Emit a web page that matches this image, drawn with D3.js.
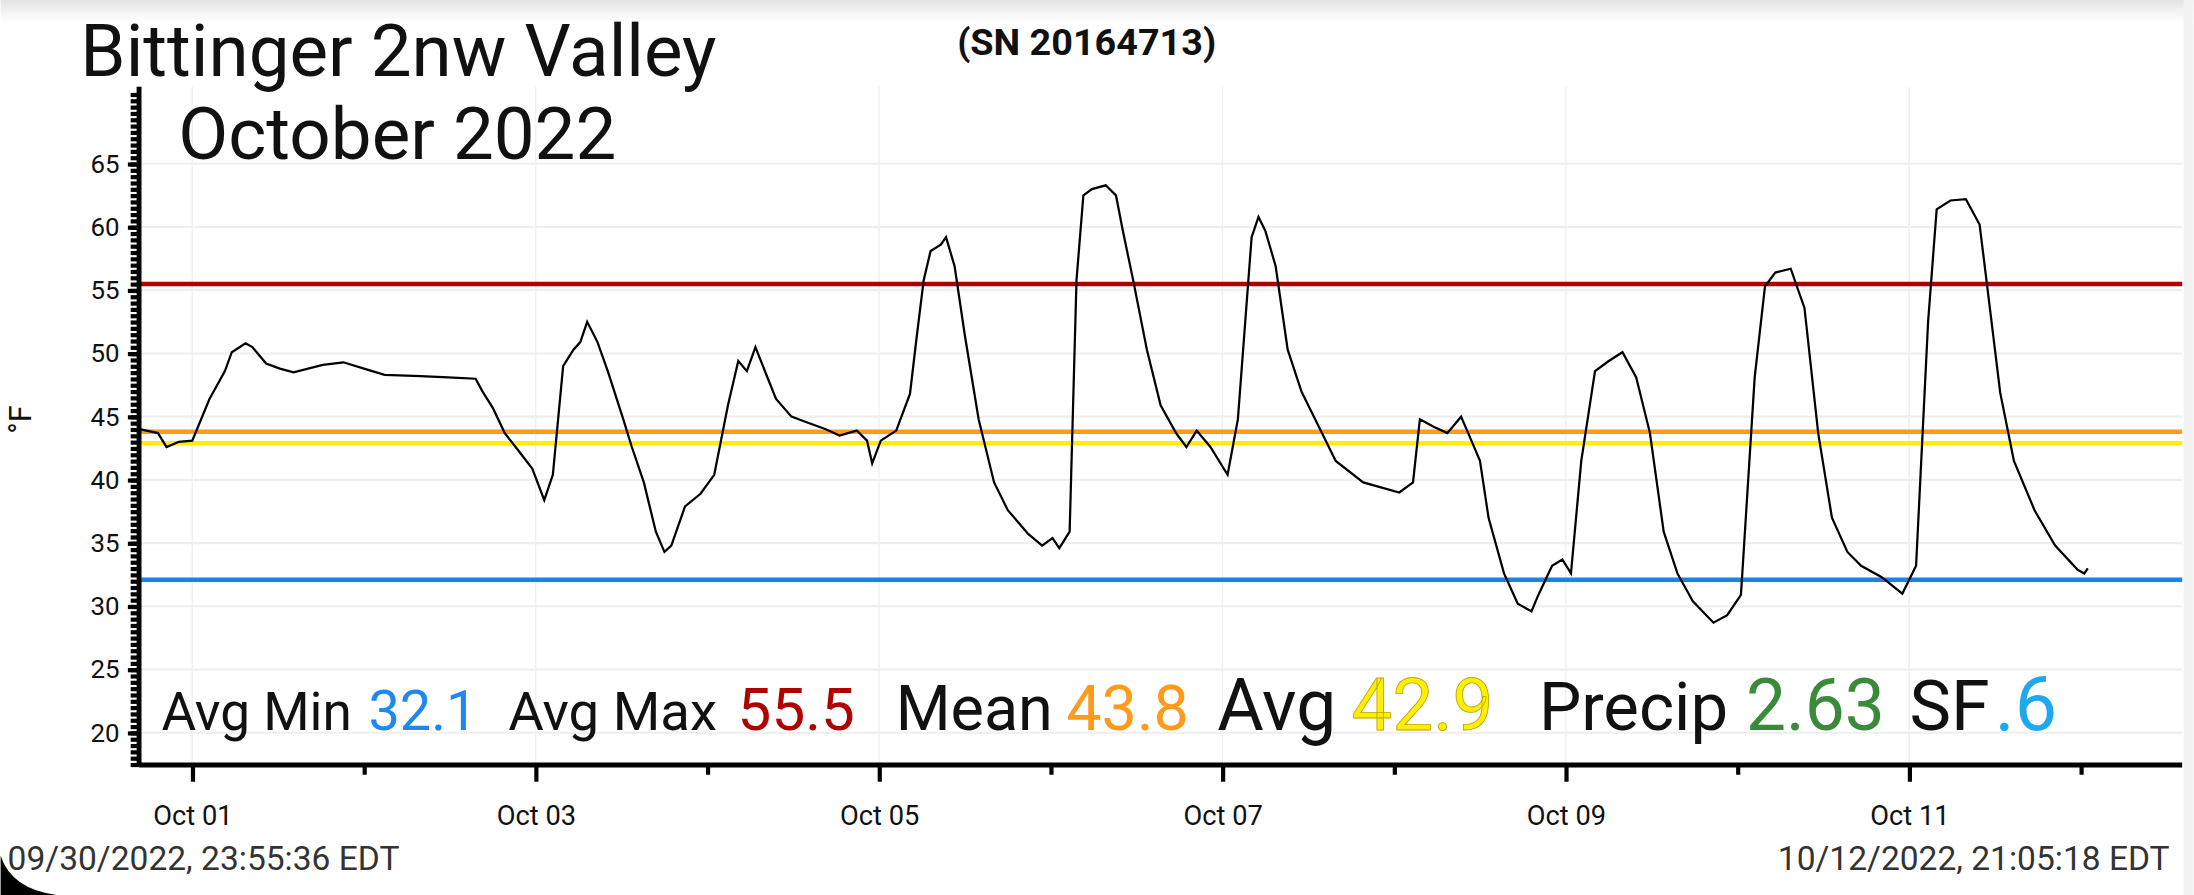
<!DOCTYPE html>
<html>
<head>
<script src="https://cdn.jsdelivr.net/npm/d3@7"></script>
<style>
body{margin:0;background:#fff;overflow:hidden}
text{font-family:Roboto,"Liberation Sans",sans-serif}
</style>
</head>
<body>
<svg id="chart" width="2194" height="895" viewBox="0 0 1568 640"></svg>
<script>
// days after Oct 01 00:00, and temperature in F
var days=[-0.30,-0.20,-0.15,-0.08,0.00,0.10,0.19,0.23,0.31,0.35,0.43,0.51,0.59,0.76,0.88,1.00,1.12,1.33,1.49,1.65,1.69,1.75,1.82,1.90,1.98,2.05,2.10,2.16,2.22,2.26,2.30,2.36,2.42,2.51,2.56,2.63,2.70,2.75,2.79,2.87,2.96,3.04,3.12,3.18,3.23,3.28,3.35,3.40,3.49,3.57,3.69,3.77,3.87,3.93,3.96,4.01,4.10,4.18,4.22,4.26,4.30,4.36,4.39,4.44,4.50,4.58,4.67,4.75,4.87,4.95,5.01,5.05,5.11,5.15,5.19,5.24,5.32,5.38,5.42,5.48,5.56,5.64,5.73,5.79,5.85,5.93,6.03,6.09,6.17,6.21,6.25,6.31,6.38,6.46,6.54,6.66,6.82,7.03,7.11,7.15,7.23,7.31,7.39,7.45,7.50,7.55,7.64,7.72,7.80,7.84,7.92,7.98,8.03,8.09,8.17,8.25,8.33,8.41,8.49,8.57,8.65,8.74,8.86,8.94,9.02,9.10,9.16,9.22,9.31,9.39,9.47,9.55,9.64,9.72,9.84,9.96,10.04,10.11,10.16,10.24,10.33,10.41,10.45,10.53,10.61,10.73,10.85,10.98,11.02,11.04];
var temps=[44.0,43.7,42.6,43.0,43.1,46.4,48.6,50.1,50.8,50.5,49.2,48.8,48.5,49.1,49.3,48.8,48.3,48.2,48.1,48.0,47.0,45.7,43.7,42.3,40.9,38.4,40.4,49.0,50.3,50.9,52.5,50.9,48.6,44.8,42.6,39.8,35.9,34.3,34.8,37.9,38.9,40.4,45.9,49.4,48.6,50.5,48.1,46.4,45.0,44.6,44.0,43.5,43.9,43.1,41.3,43.1,43.9,46.8,51.4,55.8,58.1,58.6,59.2,56.9,51.4,44.8,39.8,37.6,35.7,34.8,35.4,34.6,35.9,55.8,62.5,63.0,63.3,62.5,59.7,55.8,50.3,45.9,43.7,42.6,43.9,42.6,40.4,44.8,59.2,60.8,59.7,56.9,50.3,47.0,44.8,41.5,39.8,39.0,39.8,44.8,44.2,43.7,45.0,43.1,41.5,37.0,32.6,30.2,29.6,30.9,33.2,33.7,32.6,41.5,48.6,49.4,50.1,48.1,43.7,35.9,32.6,30.4,28.7,29.3,30.9,48.1,55.3,56.4,56.7,53.6,43.7,37.0,34.3,33.2,32.3,31.0,33.2,52.5,61.4,62.1,62.2,60.2,55.8,46.9,41.5,37.6,34.8,32.9,32.6,33.0];
var refValues=[55.5,43.8,42.9,32.1];
var refColors=["#b00000","#ff9a1a","#ffee00","#1e7ff0"];
var yTicks=[20,25,30,35,40,45,50,55,60,65];
var xTickDays=[0,2,4,6,8,10];
var xTickLabels=["Oct 01","Oct 03","Oct 05","Oct 07","Oct 09","Oct 11"];
var statParts=[
 {t:"Avg Min",c:"#111",s:38},{t:"32.1",c:"#1e88f0",s:40},{t:"Avg Max",c:"#111",s:39},{t:"55.5",c:"#b00000",s:43},
 {t:"Mean",c:"#111",s:45},{t:"43.8",c:"#ff9a1a",s:45},{t:"Avg",c:"#111",s:51},{t:"42.9",c:"#ffee00",s:52},
 {t:"Precip",c:"#111",s:48},{t:"2.63",c:"#3a8a3a",s:51},{t:"SF",c:"#111",s:50},{t:".6",c:"#1ea8f0",s:54}];
var statX=[115,263,363,527,640,762,870,966,1100,1248,1365,1426];

var svg=d3.select("#chart");
var x=d3.scaleLinear().domain([-0.31,11.59]).range([99,1560]);
var y=d3.scaleLinear().domain([17.45,71.1]).range([547,62]);

// top shade
var g0=svg.append("defs").append("linearGradient").attr("id","top").attr("x1",0).attr("x2",0).attr("y1",0).attr("y2",1);
g0.append("stop").attr("offset",0).attr("stop-color","#e4e4e4");
g0.append("stop").attr("offset",1).attr("stop-color","#fff");
svg.append("rect").attr("x",0).attr("y",0).attr("width",1568).attr("height",16).attr("fill","url(#top)");
svg.append("rect").attr("x",1561).attr("y",0).attr("width",7).attr("height",640).attr("fill","#f2f2f2");

// grid
svg.append("g").selectAll("line").data(yTicks).enter().append("line")
 .attr("x1",99).attr("x2",1560).attr("y1",d=>y(d)).attr("y2",d=>y(d)).attr("stroke","#eee").attr("stroke-width",1.5);
svg.append("g").selectAll("line").data(xTickDays).enter().append("line")
 .attr("x1",d=>x(d)).attr("x2",d=>x(d)).attr("y1",62).attr("y2",547).attr("stroke","#f0f0f0").attr("stroke-width",1);

// reference lines
svg.append("g").selectAll("line").data(refValues).enter().append("line")
 .attr("x1",99).attr("x2",1560).attr("y1",d=>y(d)).attr("y2",d=>y(d))
 .attr("stroke",(d,i)=>refColors[i]).attr("stroke-width",3.2);

// temperature trace
var line=d3.line().x(d=>x(d[0])).y(d=>y(d[1]));
svg.append("path").datum(days.map((d,i)=>[d,temps[i]])).attr("d",line)
 .attr("fill","none").attr("stroke","#000").attr("stroke-width",1.6);

// y axis
var minorY=d3.range(17.5,71,0.5);
svg.append("g").attr("transform","translate(99,0)")
 .call(d3.axisLeft(y).tickValues(minorY).tickSize(6).tickFormat(""))
 .call(g=>g.selectAll(".tick line").attr("stroke-width",3))
 .call(g=>g.select(".domain").remove());
svg.append("g").attr("transform","translate(99,0)")
 .call(d3.axisLeft(y).tickValues(yTicks).tickSize(8).tickPadding(6))
 .call(g=>g.selectAll(".tick line").attr("stroke-width",3))
 .call(g=>g.selectAll("text").attr("font-size",18.5).attr("fill","#111"))
 .call(g=>g.select(".domain").attr("stroke-width",3.5).attr("d","M0,62V547"));

// x axis
svg.append("g").attr("transform","translate(0,547)")
 .call(d3.axisBottom(x).tickValues([1,3,5,7,9,11]).tickSize(7).tickFormat(""))
 .call(g=>g.selectAll(".tick line").attr("stroke-width",3))
 .call(g=>g.select(".domain").remove());
svg.append("g").attr("transform","translate(0,547)")
 .call(d3.axisBottom(x).tickValues(xTickDays).tickSize(12).tickPadding(17).tickFormat((d,i)=>xTickLabels[i]))
 .call(g=>g.selectAll(".tick line").attr("stroke-width",3))
 .call(g=>g.selectAll("text").attr("font-size",19.5).attr("fill","#111"))
 .call(g=>g.select(".domain").attr("stroke-width",3.5).attr("d","M99,0H1560"));

// titles
svg.append("text").attr("x",57).attr("y",54).attr("font-size",52).attr("fill","#111").text("Bittinger 2nw Valley");
svg.append("text").attr("x",127).attr("y",114).attr("font-size",52).attr("fill","#111").text("October 2022");
svg.append("text").attr("x",684).attr("y",39).attr("font-size",27).attr("font-weight","bold").attr("fill","#111").text("(SN 20164713)");
svg.append("text").attr("transform","translate(22,300) rotate(-90)").attr("text-anchor","middle").attr("font-size",22).attr("fill","#111").text("°F");

// stats line
svg.append("g").selectAll("text").data(statParts).enter().append("text")
 .attr("x",(d,i)=>statX[i]).attr("y",522).attr("font-size",d=>d.s).attr("fill",d=>d.c)
 .attr("stroke",d=>d.t=="42.9"?"#b8a800":"none").attr("stroke-width",0.6).text(d=>d.t);

// footer
svg.append("text").attr("x",5).attr("y",622).attr("font-size",24).attr("fill","#333").text("09/30/2022, 23:55:36 EDT");
svg.append("text").attr("x",1551).attr("y",622).attr("text-anchor","end").attr("font-size",24).attr("fill","#333").text("10/12/2022, 21:05:18 EDT");
svg.append("path").attr("d","M0,612 Q8,636 40,640 L0,640Z").attr("fill","#000");
</script>
</body>
</html>
